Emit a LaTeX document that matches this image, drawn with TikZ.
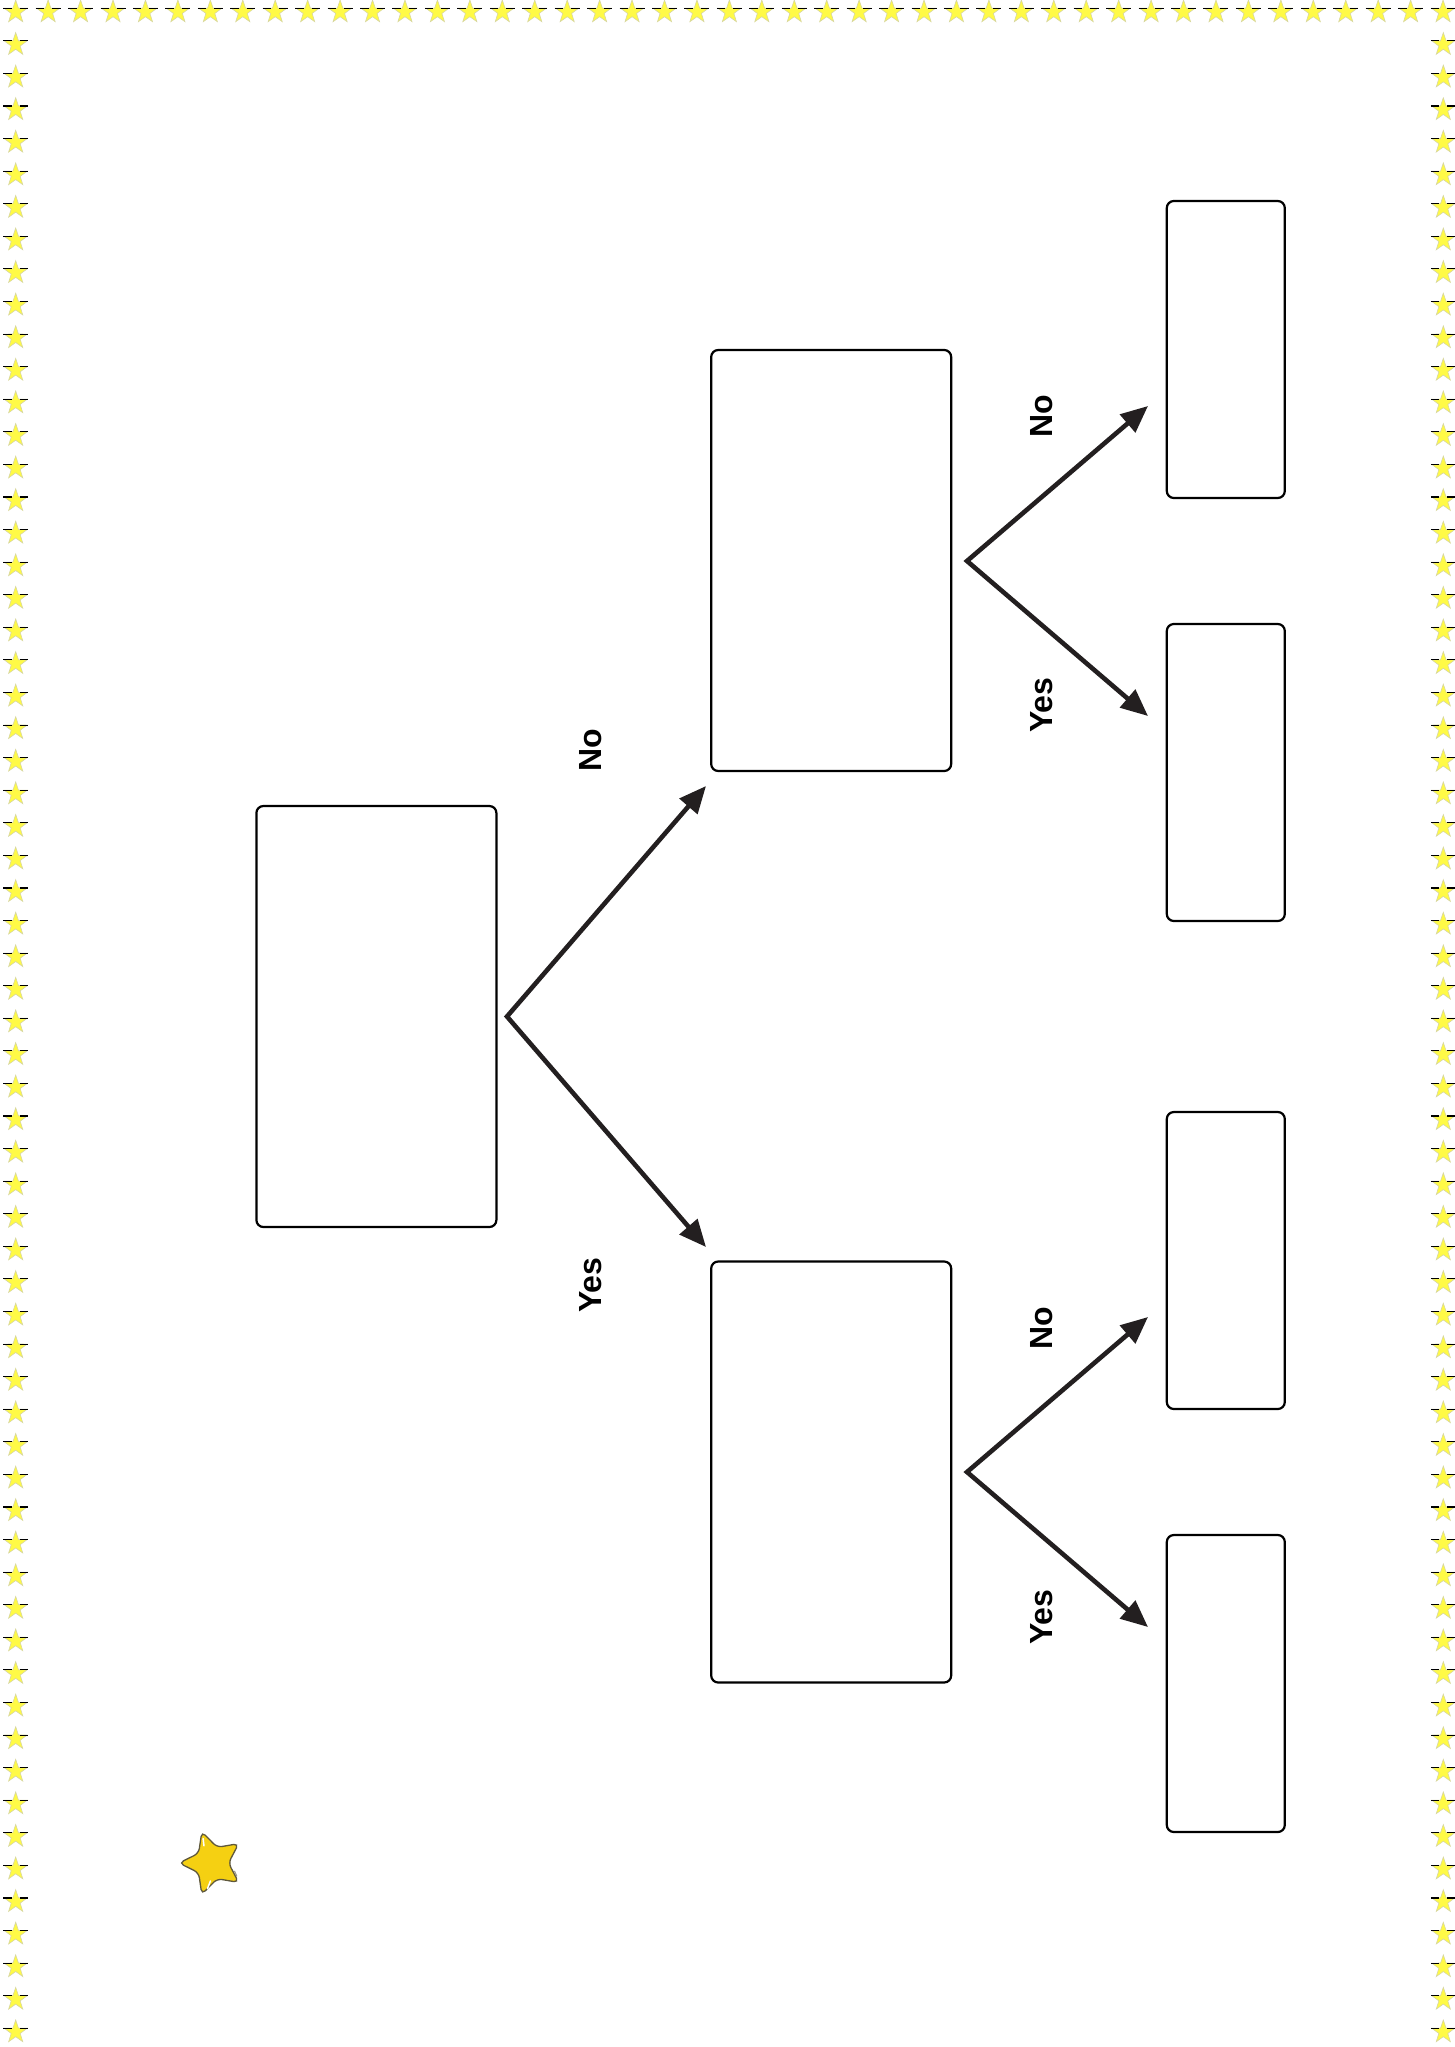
\documentclass[tikz,border=0pt]{standalone}
\usepackage{fontspec}
\setmainfont{Liberation Sans}
\usetikzlibrary{arrows.meta}
\definecolor{ink}{RGB}{35,31,32}
\definecolor{staryel}{RGB}{255,250,70}
\definecolor{staredge}{RGB}{215,215,160}
\definecolor{gold}{RGB}{245,208,18}
\definecolor{goldedge}{RGB}{95,88,60}
\tikzset{
  box/.style={draw=black, line width=2.2pt, rounded corners=7pt, inner sep=0pt, fill=white},
  bigbox/.style={box, minimum width=240pt, minimum height=421pt},
  smallbox/.style={box, minimum width=118pt, minimum height=297pt},
  link/.style={draw=ink, line width=4.6pt, line join=miter,
    {Triangle[length=27pt,width=23pt]}-{Triangle[length=27pt,width=23pt]}},
  lbl/.style={font=\bfseries\fontsize{32}{32}\selectfont, rotate=90, inner sep=0pt},
  bstar/.pic={
    \filldraw[fill=staryel, draw=staredge, line width=0.6pt]
      (-90:12) -- (-54:4.7) -- (-18:12) -- (18:4.7) -- (54:12) --
      (90:4.7) -- (126:12) -- (162:4.7) -- (198:12) -- (234:4.7) -- cycle;
    \draw[black, line width=1.1pt] (-12.5,-3.7) -- (-4,-3.7) (4,-3.7) -- (12.5,-3.7);
  }
}
\begin{document}
\begin{tikzpicture}[x=1pt,y=-1pt]
\useasboundingbox (0,0) rectangle (1455,2047);
\fill[white] (0,0) rectangle (1455,2047);

% border of stars
\foreach \i in {0,...,44} \pic at ({15.7+\i*32.44},12) {bstar};
\foreach \i in {1,...,62} \pic at (15.7,{12+\i*32.58}) {bstar};
\foreach \i in {1,...,62} \pic at (1443.3,{12+\i*32.58}) {bstar};

% boxes
\node[bigbox] (A) at (376.4,1016.5) {};
\node[bigbox] (B) at (831.2,560.5) {};
\node[bigbox] (C) at (831.2,1472) {};
\node[smallbox] (B1) at (1225.8,349.5) {};
\node[smallbox] (B2) at (1225.8,772.5) {};
\node[smallbox] (C1) at (1225.8,1260.5) {};
\node[smallbox] (C2) at (1225.8,1683.5) {};

% connector coordinates
\coordinate (vA) at (507,1016.5);
\coordinate (tAno) at (706,786);
\coordinate (tAyes) at (706,1247);
\coordinate (vB) at (967,561);
\coordinate (tBno) at (1148,406);
\coordinate (tByes) at (1148,716);
\coordinate (vC) at (967,1472);
\coordinate (tCno) at (1148,1317);
\coordinate (tCyes) at (1148,1627);

\draw[link] (tAno) -- (vA) -- (tAyes);
\draw[link] (tBno) -- (vB) -- (tByes);
\draw[link] (tCno) -- (vC) -- (tCyes);

% labels
\node[lbl] (lAno) at (591,750) {No};
\node[lbl] (lAyes) at (591,1285) {Yes};
\node[lbl] (lBno) at (1042,416.5) {No};
\node[lbl] (lByes) at (1042,705) {Yes};
\node[lbl] (lCno) at (1042,1328) {No};
\node[lbl] (lCyes) at (1042,1617) {Yes};

% decorative star
\begin{scope}[shift={(212,1863)}]
  \filldraw[fill=gold, draw=goldedge, line width=1.3pt, rounded corners=5pt]
    (180:33) -- (144:16.5) -- (108:33) -- (72:16.5) -- (36:33) -- (0:16.5) --
    (-36:33) -- (-72:16.5) -- (-108:33) -- (-144:16.5) -- cycle;
  \draw[white, line width=1.5pt, line cap=round] (100:26) -- (95:18);
  \draw[white, line width=1.5pt, line cap=round] (-110:26) -- (-115:19);
  \draw[goldedge!60, line width=1.2pt, line cap=round] (20:24) -- (28:28);
\end{scope}
\end{tikzpicture}
\end{document}
